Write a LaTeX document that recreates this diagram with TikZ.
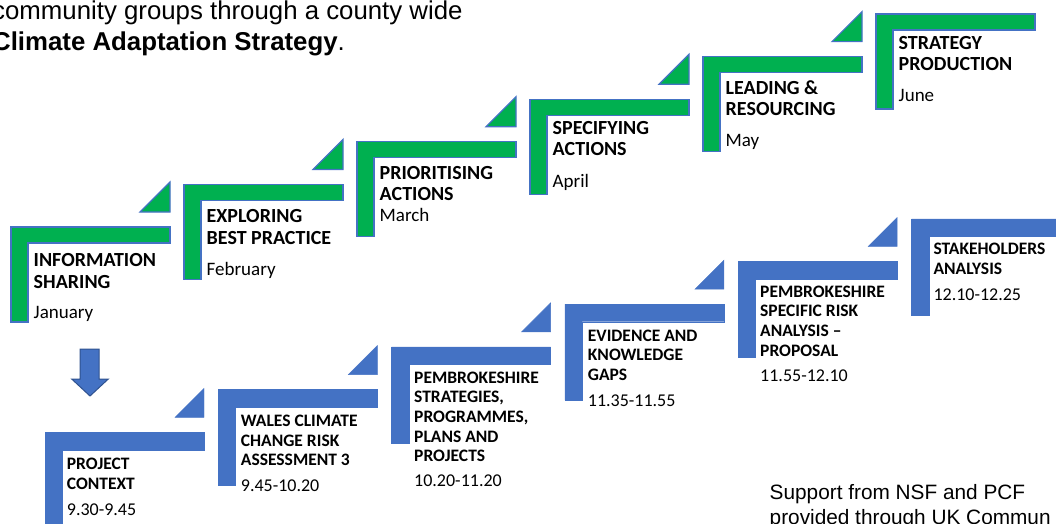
\documentclass[tikz,border=0pt]{standalone}
\usepackage{fontspec}
\setmainfont{Carlito}
\newfontfamily\arialfont{Liberation Sans}
\usepackage{tikz}
\usetikzlibrary{positioning}
\definecolor{stepgreen}{HTML}{00B050}
\definecolor{stepblue}{HTML}{4472C4}
\definecolor{arrowedge}{HTML}{2F528F}

\begin{document}
\begin{tikzpicture}[x=1pt, y=-1pt,
        greenstep/.style={fill=stepgreen, draw=stepblue, line width=1.2pt},
        bluestep/.style={fill=stepblue, draw=stepblue, line width=0.4pt},
        glabel/.style={anchor=north west, inner sep=0pt, align=left, font=\fontsize{20}{21.7}\selectfont\bfseries},
        gdate/.style={anchor=base west, inner sep=0pt, font=\fontsize{19}{22}\selectfont},
        blabel/.style={anchor=north west, inner sep=0pt, align=left, font=\fontsize{17.5}{19.6}\selectfont\bfseries},
        bdate/.style={anchor=base west, inner sep=0pt, font=\fontsize{18}{20}\selectfont},
        intro/.style={anchor=base west, inner sep=0pt, font=\arialfont\fontsize{25.8}{31}\selectfont},
        note/.style={anchor=base west, inner sep=0pt, font=\arialfont\fontsize{20.8}{25}\selectfont}]
        \useasboundingbox (0,0) rectangle (1056,523);
        \clip (0,0) rectangle (1056,523);
        % green steps
        \foreach \i in {0,...,5}{
            \pgfmathsetmacro\gl{11+173*\i}
            \pgfmathsetmacro\gt{227-42.6*\i}
            \draw[greenstep] (\gl,\gt) -- ++(159,0) -- ++(0,16) -- ++(-142,0) -- ++(0,79) -- ++(-17,0) -- cycle;
        }
        \foreach \i in {0,...,4}{
            \pgfmathsetmacro\gl{11+173*\i}
            \pgfmathsetmacro\gt{227-42.6*\i}
            \draw[greenstep] (\gl+129,\gt-15) -- (\gl+159,\gt-15) -- (\gl+159,\gt-45) -- cycle;
        }
        % blue steps
        \foreach \i in {0,...,5}{
            \pgfmathsetmacro\bl{45+173.3*\i}
            \pgfmathsetmacro\bt{432.3-42.7*\i}
            \draw[bluestep] (\bl,\bt) -- ++(159,0) -- ++(0,17.5) -- ++(-141.7,0) -- ++(0,78.5) -- ++(-17.3,0) -- cycle;
        }
        \foreach \i in {0,...,4}{
            \pgfmathsetmacro\bl{45+173.3*\i}
            \pgfmathsetmacro\bt{432.3-42.7*\i}
            \draw[bluestep] (\bl+130,\bt-15) -- (\bl+159,\bt-15) -- (\bl+159,\bt-44) -- cycle;
        }
        % down arrow
        \draw[fill=stepblue, draw=arrowedge, line width=1pt] (80,349) -- (99,349) -- (99,379) -- (108.3,379) -- (90,396) -- (71.7,379) -- (80,379) -- cycle;
        % intro text
        \node[intro] (intro1) at (-8,19) {community groups through a county wide};
        \node[intro] (intro2) at ([yshift=-31pt]intro1.base west) {\textbf{Climate Adaptation Strategy}.};
        % green labels
        \node[glabel] (info) at (33.5,253.1) {INFORMATION\\SHARING};
        \node[gdate] (jan) at (33.5,318.3) {January};
        \node[glabel] (explore) at (206.5,209.1) {EXPLORING\\BEST PRACTICE};
        \node[gdate] (feb) at (206.5,275) {February};
        \node[glabel] (prioritise) at (379.5,165.7) {PRIORITISING\\ACTIONS};
        \node[gdate] (mar) at (379.5,221.7) {March};
        \node[glabel] (specify) at (552.5,120.7) {SPECIFYING\\ACTIONS};
        \node[gdate] (apr) at (552.5,187.3) {April};
        \node[glabel] (lead) at (725.5,80.1) {LEADING \&\\RESOURCING};
        \node[gdate] (may) at (725.5,146.7) {May};
        \node[glabel] (strategy) at (898.5,35.7) {STRATEGY\\PRODUCTION};
        \node[gdate] (jun) at (898.5,101.7) {June};
        % blue labels
        \node[blabel] (context) at (66.7,458.2) {PROJECT\\CONTEXT};
        \node[bdate] (t1) at (66.7,515) {9.30-9.45};
        \node[blabel] (wales) at (240.7,414.9) {WALES CLIMATE\\CHANGE RISK\\ASSESSMENT 3};
        \node[bdate] (t2) at (240.7,491.7) {9.45-10.20};
        \node[blabel] (pembplans) at (414,371.6) {PEMBROKESHIRE\\STRATEGIES,\\PROGRAMMES,\\PLANS AND\\PROJECTS};
        \node[bdate] (t3) at (414,486) {10.20-11.20};
        \node[blabel] (evidence) at (587.7,329.6) {EVIDENCE AND\\KNOWLEDGE\\GAPS};
        \node[bdate] (t4) at (587.7,406.7) {11.35-11.55};
        \node[blabel] (pembrisk) at (760,285.6) {PEMBROKESHIRE\\SPECIFIC RISK\\ANALYSIS –\\PROPOSAL};
        \node[bdate] (t5) at (760,381) {11.55-12.10};
        \node[blabel] (stakeholders) at (933.3,243.2) {STAKEHOLDERS\\ANALYSIS};
        \node[bdate] (t6) at (933.3,300.7) {12.10-12.25};
        % support note
        \node[note] (support1) at (769.5,499) {Support from NSF and PCF};
        \node[note] (support2) at ([yshift=-25pt]support1.base west) {provided through UK Commun};
    \end{tikzpicture}
\end{document}
